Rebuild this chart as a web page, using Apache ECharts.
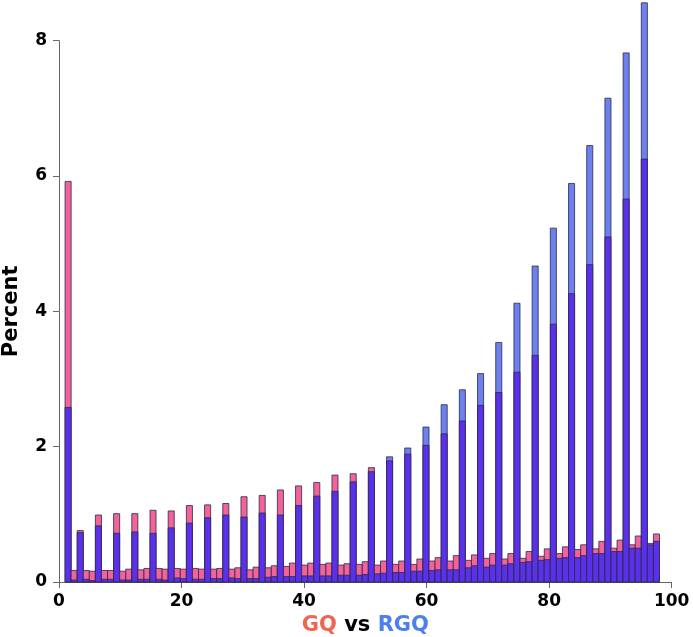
<!DOCTYPE html>
<html>
<head>
<meta charset="utf-8">
<script src="https://cdn.jsdelivr.net/npm/echarts@6/dist/echarts.min.js"></script>
<style>html,body{margin:0;padding:0;background:#fff;}#chart{width:693px;height:637px;}</style>
</head>
<body>
<div id="chart"></div>
<script>
// Histogram bins 1..98 (bin width 0.99 over 0..99)
const binWidth = 0.99;
const binIndex = [1,2,3,4,5,6,7,8,9,10,11,12,13,14,15,16,17,18,19,20,21,22,23,24,25,26,27,28,29,30,31,32,33,34,35,36,37,38,39,40,41,42,43,44,45,46,47,48,49,50,51,52,53,54,55,56,57,58,59,60,61,62,63,64,65,66,67,68,69,70,71,72,73,74,75,76,77,78,79,80,81,82,83,84,85,86,87,88,89,90,91,92,93,94,95,96,97,98];
const gqPercent = [5.92,0.17,0.76,0.17,0.16,0.99,0.17,0.17,1.01,0.16,0.19,1.01,0.18,0.20,1.06,0.20,0.19,1.05,0.20,0.19,1.13,0.20,0.19,1.14,0.19,0.20,1.16,0.19,0.21,1.26,0.18,0.22,1.28,0.21,0.24,1.36,0.23,0.28,1.42,0.25,0.28,1.47,0.26,0.28,1.58,0.25,0.27,1.60,0.26,0.30,1.69,0.25,0.31,1.79,0.26,0.31,1.89,0.26,0.34,2.02,0.31,0.36,2.19,0.31,0.39,2.38,0.32,0.40,2.61,0.35,0.42,2.80,0.34,0.42,3.10,0.35,0.45,3.35,0.38,0.49,3.81,0.42,0.52,4.26,0.48,0.55,4.69,0.49,0.60,5.10,0.50,0.62,5.66,0.55,0.68,6.25,0.57,0.71];
const rgqPercent = [2.58,0.03,0.73,0.04,0.02,0.83,0.04,0.04,0.72,0.03,0.03,0.74,0.04,0.04,0.72,0.04,0.03,0.80,0.06,0.05,0.87,0.04,0.04,0.95,0.05,0.05,0.99,0.06,0.05,0.96,0.05,0.05,1.02,0.07,0.08,0.99,0.08,0.08,1.13,0.09,0.09,1.27,0.09,0.09,1.34,0.10,0.10,1.48,0.10,0.11,1.63,0.12,0.13,1.85,0.14,0.14,1.98,0.16,0.16,2.29,0.17,0.18,2.62,0.18,0.18,2.84,0.21,0.24,3.08,0.22,0.25,3.54,0.25,0.27,4.12,0.29,0.30,4.67,0.32,0.33,5.23,0.35,0.36,5.89,0.36,0.39,6.45,0.42,0.42,7.15,0.45,0.45,7.82,0.50,0.50,8.56,0.55,0.60];
const xTicks = [0, 20, 40, 60, 80, 100];
const yTicks = [0, 2, 4, 6, 8];

const PINK = '#f3629b', LIGHTBLUE = '#6c81ee', VIOLET = '#5a30eb', EDGE = '#2b2a4a';
const FONT = 'DejaVu Sans';

const data = binIndex.map((k, i) => [k, gqPercent[i], rgqPercent[i]]);

function renderItem(params, api) {
  const k = api.value(0), g = api.value(1), r = api.value(2);
  const x0 = k * binWidth, x1 = (k + 1) * binWidth;
  const hi = Math.max(g, r), lo = Math.min(g, r);
  const base = api.coord([x0, 0]);
  const pHi = api.coord([x1, hi]);
  const pLo = api.coord([x1, lo]);
  const children = [{
    type: 'rect',
    shape: {x: base[0], y: pHi[1], width: pHi[0] - base[0], height: base[1] - pHi[1]},
    style: {fill: g >= r ? PINK : LIGHTBLUE, stroke: EDGE, lineWidth: 0.8}
  }];
  if (lo > 0) {
    children.push({
      type: 'rect',
      shape: {x: base[0], y: pLo[1], width: pLo[0] - base[0], height: base[1] - pLo[1]},
      style: {fill: VIOLET, stroke: EDGE, lineWidth: 0.8}
    });
  }
  return {type: 'group', children};
}

const chart = echarts.init(document.getElementById('chart'), null, {renderer: 'canvas'});
chart.setOption({
  animation: false,
  backgroundColor: '#fff',
  grid: {left: 59, right: 21.3, top: 40.7, bottom: 55, containLabel: false, outerBoundsMode: 'none'},
  xAxis: {
    type: 'value', min: xTicks[0], max: xTicks[xTicks.length - 1], interval: 20,
    splitLine: {show: false},
    axisLine: {show: true, lineStyle: {color: '#666', width: 1}},
    axisTick: {show: true, length: 6, lineStyle: {color: '#666'}},
    axisLabel: {margin: 11, color: '#000', fontFamily: FONT, fontWeight: 'bold', fontSize: 17},
    name: '{gq|GQ} {vs|vs} {rgq|RGQ}',
    nameLocation: 'middle', nameGap: 33,
    nameTextStyle: {
      fontFamily: FONT, fontWeight: 'bold', fontSize: 21,
      rich: {
        gq: {color: '#ef6550', fontFamily: FONT, fontWeight: 'bold', fontSize: 21},
        vs: {color: '#000', fontFamily: FONT, fontWeight: 'bold', fontSize: 21},
        rgq: {color: '#4c7ff0', fontFamily: FONT, fontWeight: 'bold', fontSize: 21}
      }
    }
  },
  yAxis: {
    type: 'value', min: yTicks[0], max: yTicks[yTicks.length - 1], interval: 2,
    splitLine: {show: false},
    axisLine: {show: true, lineStyle: {color: '#666', width: 1}},
    axisTick: {show: true, length: 6, lineStyle: {color: '#666'}},
    axisLabel: {margin: 12, color: '#000', fontFamily: FONT, fontWeight: 'bold', fontSize: 17},
    name: 'Percent', nameLocation: 'middle', nameGap: 37, nameRotate: 90,
    nameTextStyle: {color: '#000', fontFamily: FONT, fontWeight: 'bold', fontSize: 21}
  },
  series: [{
    type: 'custom',
    name: 'GQ vs RGQ',
    renderItem: renderItem,
    clip: false,
    encode: {x: 0, y: [1, 2]},
    data: data
  }]
});
</script>
</body>
</html>
